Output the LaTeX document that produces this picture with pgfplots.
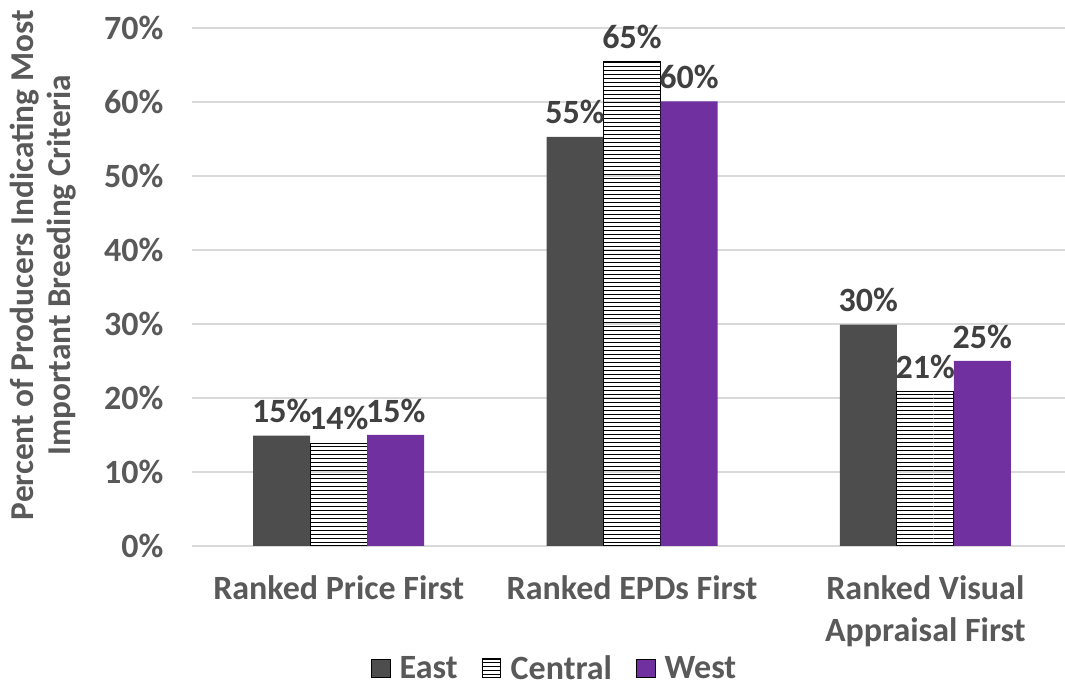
\documentclass[border=0pt]{standalone}
\usepackage{fontspec}
\setmainfont{Carlito}
\usepackage{pgfplots}
\pgfplotsset{compat=1.18}
\usetikzlibrary{patterns}
\definecolor{eastc}{HTML}{4D4D4D}
\definecolor{westc}{HTML}{7030A0}
\definecolor{txt}{HTML}{595959}
\definecolor{lbl}{HTML}{404040}
\definecolor{gridc}{HTML}{D9D9D9}
\begin{document}
\begin{tikzpicture}
\begin{axis}[
  scale only axis, width=660pt, height=388.5pt,
  ybar=0pt, bar width=42.75pt,
  legend image code/.code={\draw[#1] (0pt,-7pt) rectangle (14pt,7pt);},
  xmin=-0.5, xmax=2.5, ymin=0, ymax=70,
  xtick={0,1,2},
  xticklabels={Ranked Price First, Ranked EPDs First, {Ranked Visual\\Appraisal First}},
  ytick={0,10,...,70},
  yticklabel={\pgfmathprintnumber{\tick}\%},
  /pgf/number format/assume math mode=true,
  ymajorgrids, grid style={gridc, line width=0.8pt},
  major tick length=0pt,
  axis x line*=bottom, axis y line*=left,
  axis line style={-},
  x axis line style={gridc, line width=0.8pt},
  y axis line style={draw=none},
  yticklabel style={font=\fontsize{25.5}{30}\selectfont\bfseries, text=txt, xshift=-18pt},
  xticklabel style={font=\fontsize{25.5}{31.5}\selectfont\bfseries, text=txt, align=center, anchor=north, yshift=-19pt},
  ylabel={Percent of Producers Indicating Most\\Important Breeding Criteria},
  every axis y label/.style={at={(axis description cs:-0.1688,0.542)}, rotate=90, anchor=center,
    font=\fontsize{25}{27.75}\selectfont\bfseries, text=txt, align=center},
  nodes near coords={\pgfmathprintnumber[fixed,precision=0]{\pgfplotspointmeta}\%},
  nodes near coords style={font=\fontsize{25.5}{30}\selectfont\bfseries, text=lbl, yshift=6pt},
  legend columns=3,
  legend style={at={(0.4125,-0.236)}, anchor=center, draw=none, fill=none, inner ysep=0pt,
    nodes={inner ysep=1pt},
    font=\fontsize{25.5}{30}\selectfont\bfseries, text=txt,
    /tikz/every even column/.append style={column sep=16pt},
    /tikz/every odd column/.append style={column sep=5pt}},
  legend cell align=left,
]
\addplot[fill=eastc, draw=none]
  coordinates {(0,14.9) (1,55.3) (2,29.9)};
\addplot[pattern=horizontal lines, pattern color=black, draw=black, line width=0.9pt]
  coordinates {(0,13.9) (1,65.4) (2,20.9)};
\addplot[fill=westc, draw=none]
  coordinates {(0,15.0) (1,60.1) (2,25.0)};
\legend{East, Central, West}
\coordinate (SW) at (rel axis cs:0,0);
\coordinate (NE) at (rel axis cs:1,1);
\end{axis}
\pgfresetboundingbox
\path[use as bounding box] ([xshift=-144pt,yshift=-105.75pt]SW) rectangle ([xshift=-5.25pt,yshift=21pt]NE);
\end{tikzpicture}
\end{document}
